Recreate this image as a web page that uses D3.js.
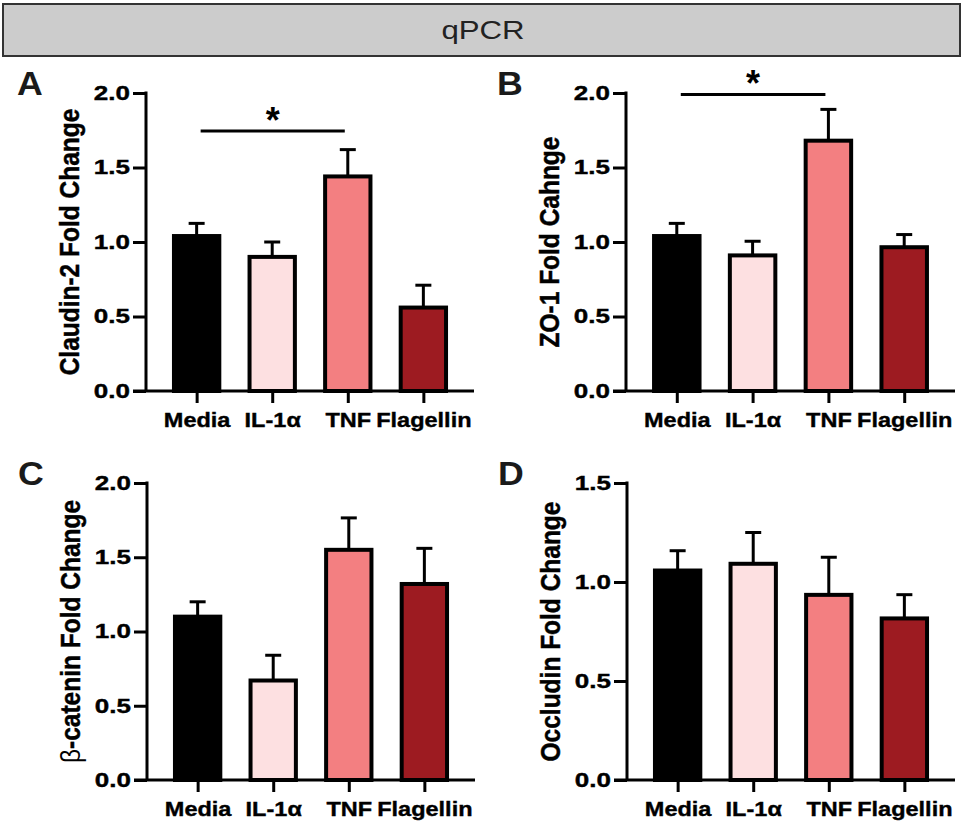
<!DOCTYPE html>
<html><head><meta charset="utf-8">
<script src="https://cdn.jsdelivr.net/npm/d3@7"></script>
<style>body{margin:0;background:#fff;} svg{display:block;}</style>
</head><body>
<svg id="c" width="963" height="825"></svg>
<script>
// ---- data ----
const categories = ["Media", "IL-1α", "TNF", "Flagellin"];
const colors = ["#000000", "#fde0e1", "#f37f81", "#9d1b21"];

const claudinMean = [1.04, 0.90, 1.44, 0.56];
const claudinSem  = [0.085, 0.10, 0.18, 0.15];
const zo1Mean = [1.04, 0.91, 1.68, 0.965];
const zo1Sem  = [0.085, 0.095, 0.21, 0.085];
const bcatMean = [1.10, 0.67, 1.55, 1.32];
const bcatSem  = [0.10, 0.17, 0.215, 0.24];
const occMean = [1.058, 1.092, 0.935, 0.816];
const occSem  = [0.10, 0.158, 0.19, 0.12];

const ticks2 = [0, 0.5, 1.0, 1.5, 2.0];
const ticks15 = [0, 0.5, 1.0, 1.5];

const panels = [
  {letter:"A", ylabel:"Claudin-2 Fold Change", mean:claudinMean, sem:claudinSem, ymax:2, ticks:ticks2,
   sig:{from:"Media", to:"TNF", y:1.745}, box:{l:146,r:474,t:93,b:391}},
  {letter:"B", ylabel:"ZO-1 Fold Cahnge", mean:zo1Mean, sem:zo1Sem, ymax:2, ticks:ticks2,
   sig:{from:"Media", to:"TNF", y:1.99}, box:{l:626,r:955,t:93,b:391}},
  {letter:"C", ylabel:"β-catenin Fold Change", mean:bcatMean, sem:bcatSem, ymax:2, ticks:ticks2,
   sig:null, box:{l:147,r:475,t:483,b:780}},
  {letter:"D", ylabel:"Occludin Fold Change", mean:occMean, sem:occSem, ymax:1.5, ticks:ticks15,
   sig:null, box:{l:627,r:955,t:483,b:780}}
];

const SX = 1.12; // horizontal glyph stretch seen in the reference
const FONT = "'Liberation Sans', Arial, Helvetica, sans-serif";
const svg = d3.select("#c");

// header
svg.append("rect").attr("x",3).attr("y",4).attr("width",957).attr("height",52)
  .attr("fill","#cccccc").attr("stroke","#333").attr("stroke-width",2);
svg.append("text").attr("transform",`translate(483,39) scale(1.2,1)`)
  .attr("text-anchor","middle").attr("font-family",FONT).attr("font-size",26)
  .attr("fill","#222").text("qPCR");

function heavy(sel){ return sel.attr("stroke","#000").attr("stroke-width",0.4); }

panels.forEach(p => {
  const g = svg.append("g");
  const {l,r,t,b} = p.box;
  const x = d3.scalePoint().domain(categories).range([l, r]).padding(0.67);
  const y = d3.scaleLinear().domain([0, p.ymax]).range([b, t]);
  const step = x.step();
  const bw = step * 0.6;

  // bars
  categories.forEach((c,i) => {
    const cx = x(c);
    g.append("line").attr("x1",cx).attr("x2",cx)
      .attr("y1",y(p.mean[i])).attr("y2",y(p.mean[i]+p.sem[i]))
      .attr("stroke","#000").attr("stroke-width",3);
    g.append("line").attr("x1",cx-8).attr("x2",cx+8)
      .attr("y1",y(p.mean[i]+p.sem[i])).attr("y2",y(p.mean[i]+p.sem[i]))
      .attr("stroke","#000").attr("stroke-width",3);
    g.append("rect").attr("x",cx-bw/2).attr("width",bw)
      .attr("y",y(p.mean[i])).attr("height",y(0)-y(p.mean[i]))
      .attr("fill",colors[i]).attr("stroke","#000").attr("stroke-width",4);
  });

  // y axis
  const ya = g.append("g").attr("transform",`translate(${l},0)`)
    .call(d3.axisLeft(y).tickValues(p.ticks).tickFormat(d3.format(".1f")).tickSize(13).tickPadding(3));
  ya.select(".domain").remove();
  ya.selectAll(".tick line").attr("stroke","#000").attr("stroke-width",3);
  ya.selectAll(".tick text").each(function(){
    const tx = +d3.select(this).attr("x");
    d3.select(this).attr("x",0).attr("transform",`translate(${tx},0) scale(1.3,1)`);
  }).attr("font-family",FONT).attr("font-weight","bold").attr("font-size",20).attr("fill","#000")
    .call(heavy);
  g.append("line").attr("x1",l).attr("x2",l).attr("y1",y(p.ymax)-1.5).attr("y2",y(0))
    .attr("stroke","#000").attr("stroke-width",3);

  // x axis
  const xa = g.append("g").attr("transform",`translate(0,${b})`)
    .call(d3.axisBottom(x).tickSize(12).tickPadding(8));
  xa.select(".domain").remove();
  xa.selectAll(".tick line").attr("stroke","#000").attr("stroke-width",3);
  xa.selectAll(".tick text").attr("dy",0).attr("y",0).each(function(){
    d3.select(this).attr("transform",`translate(0,36) scale(${SX},1)`);
  }).attr("font-family",FONT).attr("font-weight","bold").attr("font-size",21).attr("fill","#000")
    .call(heavy);
  g.append("line").attr("x1",l-13).attr("x2",r).attr("y1",y(0)).attr("y2",y(0))
    .attr("stroke","#000").attr("stroke-width",3);

  // y label (a leading β is drawn in regular weight, as in the reference)
  const yl = g.append("text")
    .attr("transform",`translate(${l-67},${(t+b)/2}) scale(1.15,1) rotate(-90)`)
    .attr("text-anchor","middle").attr("font-family",FONT).attr("font-weight","bold")
    .attr("font-size",24.5).attr("fill","#000");
  if (p.ylabel.startsWith("β")) {
    yl.append("tspan").attr("font-weight","normal").text("β");
    yl.append("tspan").call(heavy).text(p.ylabel.slice(1));
  } else {
    yl.call(heavy).text(p.ylabel);
  }

  // panel letter
  g.append("text").attr("transform",`translate(${l-129},${t+2}) scale(1.05,1)`)
    .attr("font-family",FONT).attr("font-weight","bold").attr("font-size",34).attr("fill","#1a1a1a")
    .text(p.letter);

  // significance
  if (p.sig) {
    const x1 = x(p.sig.from)+4, x2 = x(p.sig.to)-3;
    g.append("line").attr("x1",x1).attr("x2",x2).attr("y1",y(p.sig.y)).attr("y2",y(p.sig.y))
      .attr("stroke","#000").attr("stroke-width",3);
    g.append("text").attr("x",(x1+x2)/2).attr("y",y(p.sig.y)+2)
      .attr("text-anchor","middle").attr("font-family",FONT).attr("font-weight","bold")
      .attr("font-size",36).attr("fill","#000").text("*");
  }
});
</script>
</body></html>
